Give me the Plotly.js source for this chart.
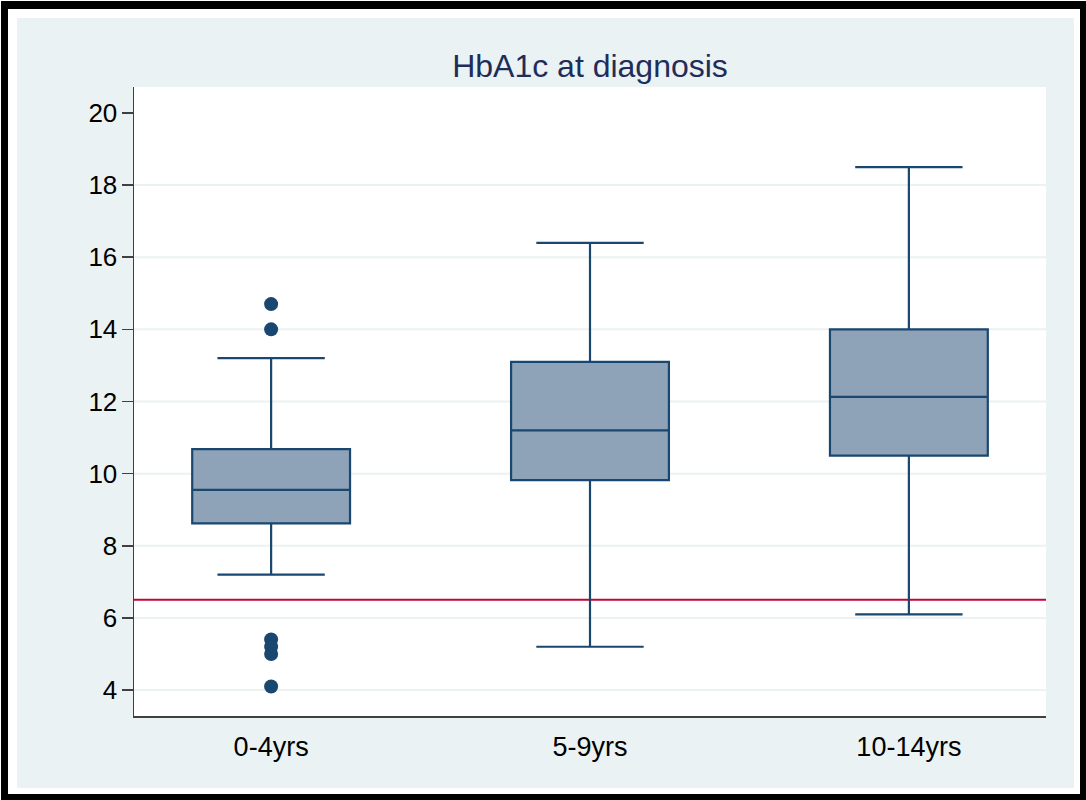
<!DOCTYPE html>
<html>
<head>
<meta charset="utf-8">
<script src="https://cdn.plot.ly/plotly-3.0.1.min.js"></script>
<style>
  html, body { margin: 0; padding: 0; background: #ffffff; width: 1086px; height: 800px; overflow: hidden; }
  #frame { position: absolute; left: 1px; top: 1px; width: 1085px; height: 799px; box-sizing: border-box;
           border-top: 8px solid #000; border-left: 7px solid #000; border-right: 6px solid #000; border-bottom: 6px solid #000; background: #fff; }
  #chart { position: absolute; left: 17px; top: 18px; width: 1057px; height: 770px; }
</style>
</head>
<body>
<div id="frame"></div>
<div id="chart"></div>
<script>
// Data
const categories = ['0-4yrs', '5-9yrs', '10-14yrs'];
const q1 = [8.62, 9.82, 10.5];
const median = [9.55, 11.2, 12.13];
const q3 = [10.68, 13.1, 14.0];
const lowerWhisker = [7.2, 5.2, 6.1];
const upperWhisker = [13.2, 16.4, 18.5];
const outlierCategory = ['0-4yrs', '0-4yrs', '0-4yrs', '0-4yrs', '0-4yrs', '0-4yrs'];
const outlierValues = [14.7, 14.0, 5.4, 5.2, 5.0, 4.1];
const referenceLine = 6.5;
const yTicks = [4, 6, 8, 10, 12, 14, 16, 18, 20];
const gridValues = [4, 6, 8, 10, 12, 14, 16, 18];

const navy = '#1a476f';
const traces = [
  {
    type: 'box',
    x: categories,
    q1: q1, median: median, q3: q3,
    lowerfence: lowerWhisker, upperfence: upperWhisker,
    fillcolor: '#8ea3b7',
    line: { color: navy, width: 2.2 },
    whiskerwidth: 0.68,
    width: 0.495,
    boxpoints: false,
    hoverinfo: 'skip',
    showlegend: false
  },
  {
    type: 'scatter',
    mode: 'markers',
    x: outlierCategory,
    y: outlierValues,
    marker: { color: navy, size: 14 },
    hoverinfo: 'skip',
    showlegend: false
  }
];

const shapes = gridValues.map(v => ({
  type: 'line', xref: 'paper', yref: 'y', x0: 0, x1: 1, y0: v, y1: v,
  line: { color: '#eaf2f3', width: 2 }, layer: 'below'
}));
shapes.push({
  type: 'line', xref: 'paper', yref: 'y', x0: 0, x1: 1, y0: referenceLine, y1: referenceLine,
  line: { color: '#c10534', width: 2 }, layer: 'below'
});

const layout = {
  width: 1057, height: 770,
  paper_bgcolor: '#eaf2f3',
  plot_bgcolor: '#ffffff',
  margin: { l: 117, r: 28, t: 69, b: 72, pad: 0 },
  font: { family: 'Liberation Sans, Arial, sans-serif', color: '#000000', size: 26 },
  title: {
    text: 'HbA1c at diagnosis',
    font: { family: 'Liberation Sans, Arial, sans-serif', size: 32, color: '#1e2d5a' },
    x: 0.5, xanchor: 'center', xref: 'paper',
    y: 0.938, yanchor: 'middle', yref: 'container'
  },
  xaxis: {
    type: 'category',
    range: [-0.43, 2.43],
    showgrid: false, zeroline: false,
    showline: true, linecolor: '#404040', linewidth: 1.5,
    ticks: '', ticklen: 0,
    tickfont: { size: 27, color: '#000000' },
    ticklabelstandoff: 6,
    fixedrange: true
  },
  yaxis: {
    range: [3.28, 20.72],
    tickvals: yTicks,
    ticktext: yTicks.map(String),
    showgrid: false, zeroline: false,
    showline: true, linecolor: '#404040', linewidth: 1.5,
    ticks: 'outside', ticklen: 11, tickwidth: 1.5, tickcolor: '#404040',
    tickfont: { size: 26, color: '#000000' },
    ticklabelstandoff: -1,
    fixedrange: true
  },
  shapes: shapes,
  showlegend: false
};

Plotly.newPlot('chart', traces, layout, { displayModeBar: false, staticPlot: true });
</script>
</body>
</html>
